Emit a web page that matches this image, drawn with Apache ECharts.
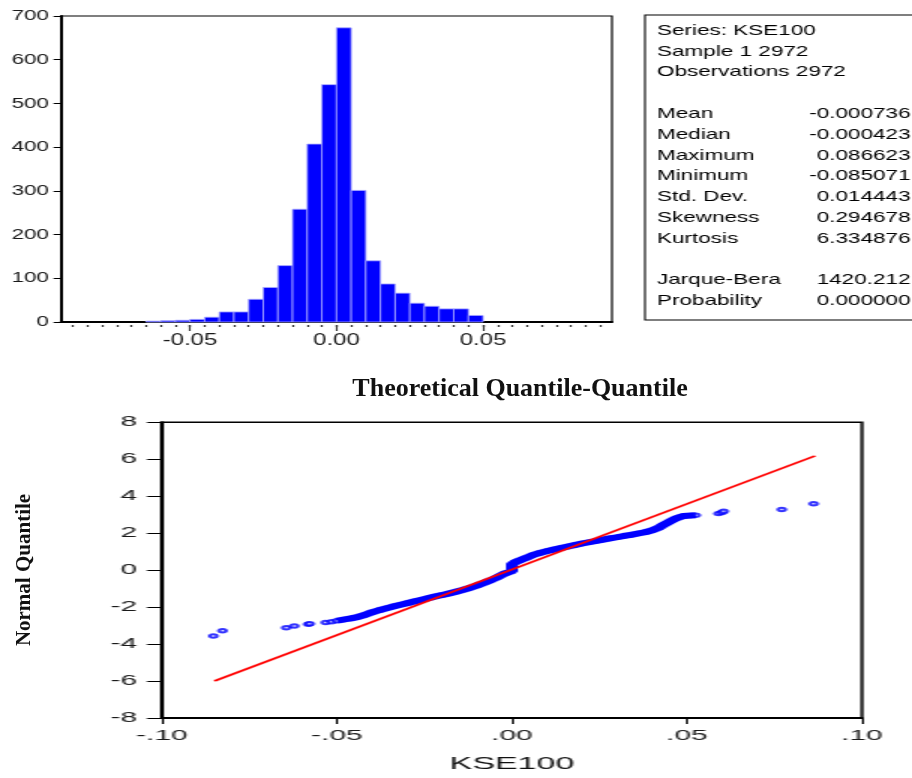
<!DOCTYPE html>
<html>
<head>
<meta charset="utf-8">
<script src="https://cdn.jsdelivr.net/npm/echarts@6/dist/echarts.min.js"></script>
<style>
html,body{margin:0;padding:0;background:#fff;width:912px;height:778px;overflow:hidden;}
/* the EViews graphs in the picture are stretched sideways, so are these */
#histChart{position:absolute;left:0;top:0;width:608px;height:360px;transform:scaleX(1.5);transform-origin:0 0;}
#qqChart{position:absolute;left:0;top:360px;width:456px;height:418px;transform:scaleX(2);transform-origin:0 0;}
#labelLayer{position:absolute;left:0;top:0;width:912px;height:778px;pointer-events:none;}
</style>
</head>
<body>
<div id="histChart"></div>
<div id="qqChart"></div>
<div id="labelLayer"></div>
<script>
// histogram, bins of width 0.005
var binWidth = 0.005;
var binStart = [-0.065, -0.06, -0.055, -0.05, -0.045, -0.04, -0.035, -0.03, -0.025, -0.02, -0.015, -0.01,
                -0.005, 0, 0.005, 0.01, 0.015, 0.02, 0.025, 0.03, 0.035, 0.04, 0.045];
var binCount = [2, 3, 4, 6, 11, 23, 23, 52, 79, 129, 258, 407,
                543, 673, 301, 140, 87, 66, 43, 36, 30, 30, 15];
var histLabels = [-0.05, 0, 0.05];
var histMinor = [-0.09, -0.085, -0.08, -0.075, -0.07, -0.065, -0.06, -0.055, -0.05, -0.045, -0.04, -0.035,
                 -0.03, -0.025, -0.02, -0.015, -0.01, -0.005, 0, 0.005, 0.01, 0.015, 0.02, 0.025, 0.03,
                 0.035, 0.04, 0.045, 0.05, 0.055, 0.06, 0.065, 0.07, 0.075, 0.08, 0.085, 0.09];

// descriptive statistics box
var statHeader = ['Series: KSE100', 'Sample 1 2972', 'Observations 2972'];
var statNames = ['Mean', 'Median', 'Maximum', 'Minimum', 'Std. Dev.', 'Skewness', 'Kurtosis'];
var statValues = ['-0.000736', '-0.000423', '0.086623', '-0.085071', '0.014443', '0.294678', '6.334876'];
var testNames = ['Jarque-Bera', 'Probability'];
var testValues = ['1420.212', '0.000000'];

// quantile-quantile plot: sample quantile (x) vs normal quantile (y)
var tailX = [-0.0853, -0.0827, -0.0645, -0.0622, -0.0582, -0.0578, -0.0532, -0.0515,
             0.0590, 0.0600, 0.0605, 0.0771, 0.0862];
var tailY = [-3.56, -3.28, -3.12, -3.02, -2.93, -2.90, -2.83, -2.79,
             3.06, 3.12, 3.19, 3.28, 3.59];
var bandX = [-0.050, -0.048, -0.046, -0.044, -0.042, -0.040, -0.038, -0.036, -0.034, -0.032, -0.030,
             -0.028, -0.026, -0.024, -0.022, -0.020, -0.018, -0.016, -0.014, -0.012, -0.010, -0.008,
             -0.006, -0.004, -0.002, -0.001, 0, 0, 0, 0, 0, 0.001, 0.002, 0.004, 0.006, 0.008, 0.010,
             0.012, 0.014, 0.016, 0.018, 0.020, 0.022, 0.024, 0.026, 0.028, 0.030, 0.032, 0.034, 0.036,
             0.038, 0.040, 0.042, 0.043, 0.044, 0.045, 0.046, 0.047, 0.048, 0.049, 0.050, 0.0512, 0.0525];
var bandY = [-2.74, -2.67, -2.61, -2.53, -2.42, -2.28, -2.17, -2.07, -1.97, -1.88, -1.79,
             -1.70, -1.61, -1.52, -1.43, -1.35, -1.26, -1.17, -1.07, -0.96, -0.83, -0.69,
             -0.54, -0.37, -0.18, -0.10, -0.05, 0.05, 0.15, 0.25, 0.32, 0.44, 0.52, 0.66, 0.82, 0.93, 1.03,
             1.12, 1.20, 1.28, 1.36, 1.44, 1.51, 1.58, 1.65, 1.72, 1.78, 1.85, 1.91, 1.98,
             2.05, 2.15, 2.30, 2.42, 2.52, 2.62, 2.72, 2.81, 2.88, 2.93, 2.95, 2.96, 2.97];
var fitX = [-0.0850, 0.0866];
var fitY = [-6.0, 6.18];

var sans = '"Liberation Sans", Arial, sans-serif';
var serif = '"Liberation Serif", "Times New Roman", serif';

function pairs(xs, ys) {
  return xs.map(function (x, i) { return [x, ys[i]]; });
}

// ---------- histogram + stats ----------
var histChart = echarts.init(document.getElementById('histChart'));

var statText = [];
var lineY = 30.7, step = 20.8, textLeft = 438, valueRight = 607;
function statLine(t, x, y, align) {
  return {type: 'text', x: x, y: y,
    style: {text: t, fontSize: 15, fontFamily: sans, fill: '#000', align: align, verticalAlign: 'middle'}};
}
statHeader.forEach(function (t, i) {
  statText.push(statLine(t, textLeft, lineY + i * step, 'left'));
});
statNames.forEach(function (t, i) {
  var y = lineY + (i + 4) * step;
  statText.push(statLine(t, textLeft, y, 'left'));
  statText.push(statLine(statValues[i], valueRight, y, 'right'));
});
testNames.forEach(function (t, i) {
  var y = lineY + (i + 12) * step;
  statText.push(statLine(t, textLeft, y, 'left'));
  statText.push(statLine(testValues[i], valueRight, y, 'right'));
});

var histOption = {
  animation: false,
  grid: {left: 40.7, top: 16, width: 367.3, height: 306, show: true, borderColor: '#000', borderWidth: 1.2},
  xAxis: [
    {
      type: 'value', min: -0.094, max: 0.094,
      axisLine: {onZero: false, lineStyle: {color: '#000', width: 2}},
      axisTick: {show: false},
      splitLine: {show: false},
      axisLabel: {customValues: histLabels, formatter: function (v) { return v.toFixed(2); },
        fontSize: 16, fontFamily: sans, color: '#1a1a1a', margin: 11}
    },
    {
      type: 'value', min: -0.094, max: 0.094, position: 'bottom', offset: 3,
      axisLine: {show: false, onZero: false}, axisLabel: {show: false}, splitLine: {show: false},
      axisTick: {customValues: histMinor, length: 2, lineStyle: {color: '#333', width: 1.3}}
    },
    {
      type: 'value', min: -0.094, max: 0.094, position: 'bottom', offset: 3,
      axisLine: {show: false, onZero: false}, axisLabel: {show: false}, splitLine: {show: false},
      axisTick: {customValues: histLabels, length: 6, lineStyle: {color: '#333', width: 1.2}}
    }
  ],
  yAxis: {
    type: 'value', min: 0, max: 700, interval: 100,
    axisLine: {show: true, onZero: false, lineStyle: {color: '#000', width: 2}},
    axisTick: {show: true, length: 5, lineStyle: {color: '#000'}},
    axisLabel: {fontSize: 15, fontFamily: sans, color: '#1a1a1a', margin: 8},
    splitLine: {show: false}
  },
  graphic: [{type: 'rect', shape: {x: 430, y: 15, width: 200, height: 305},
    style: {fill: '#fff', stroke: '#000', lineWidth: 1.1}}].concat(statText),
  series: [{
    type: 'custom',
    xAxisIndex: 0,
    data: binStart.map(function (s, i) { return [s, s + binWidth, binCount[i]]; }),
    encode: {x: [0, 1], y: 2},
    renderItem: function (params, api) {
      var p0 = api.coord([api.value(0), api.value(2)]);
      var p1 = api.coord([api.value(1), 0]);
      return {type: 'rect', shape: {x: p0[0], y: p0[1], width: p1[0] - p0[0], height: p1[1] - p0[1]},
        style: {fill: '#0000ff', stroke: '#a8a8ff', lineWidth: 0.8}};
    }
  }]
};
histChart.setOption(histOption);

// ---------- quantile-quantile ----------
var qqChart = echarts.init(document.getElementById('qqChart'));
var qqOption = {
  animation: false,
  grid: {left: 81, top: 62.3, width: 350, height: 297.7, show: true, borderColor: '#000', borderWidth: 1.5},
  xAxis: {
    type: 'value', min: -0.1, max: 0.1, interval: 0.05,
    name: 'KSE100', nameLocation: 'middle', nameGap: 38,
    nameTextStyle: {fontSize: 17, fontFamily: sans, color: '#111'},
    axisLine: {onZero: false, lineStyle: {color: '#000', width: 2}},
    axisTick: {length: 6, lineStyle: {color: '#000'}},
    axisLabel: {fontSize: 15, fontFamily: sans, color: '#1a1a1a', margin: 10.5,
      formatter: function (v) {
        var s = Math.abs(v).toFixed(2).replace(/^0/, '');
        return (v < -1e-9 ? '-' : '') + s;
      }},
    splitLine: {show: false}
  },
  yAxis: {
    type: 'value', min: -8, max: 8, interval: 2,
    axisLine: {onZero: false, lineStyle: {color: '#000', width: 2}},
    axisTick: {length: 7.5, lineStyle: {color: '#000'}},
    axisLabel: {fontSize: 15, fontFamily: sans, color: '#1a1a1a', margin: 12.5},
    splitLine: {show: false}
  },
  series: [
    {
      name: 'quantiles', type: 'scatter', z: 2,
      symbol: 'emptyCircle', symbolSize: 3.5,
      itemStyle: {color: '#0000ff', borderColor: '#0000ff', borderWidth: 1},
      data: pairs(tailX, tailY).concat(pairs(bandX, bandY))
    },
    {
      name: 'band', type: 'line', z: 3, symbol: 'none',
      lineStyle: {color: '#0000ff', width: 6},
      data: pairs(bandX, bandY)
    },
    {
      name: 'normal line', type: 'line', z: 4, symbol: 'none',
      lineStyle: {color: '#ff0000', width: 1.7},
      data: pairs(fitX, fitY)
    }
  ]
};
qqChart.setOption(qqOption);

// ---------- unstretched captions ----------
var labelLayer = echarts.init(document.getElementById('labelLayer'));
labelLayer.setOption({
  title: {text: 'Theoretical Quantile-Quantile', left: 515, top: 371, textAlign: 'center',
    textStyle: {fontFamily: serif, fontWeight: 'bold', fontSize: 26, color: '#111'}},
  graphic: [{type: 'text', x: 25, y: 570, rotation: Math.PI / 2,
    style: {text: 'Normal Quantile', fontFamily: serif, fontWeight: 'bold', fontSize: 21,
      fill: '#111', align: 'center', verticalAlign: 'middle'}}]
});
</script>
</body>
</html>
